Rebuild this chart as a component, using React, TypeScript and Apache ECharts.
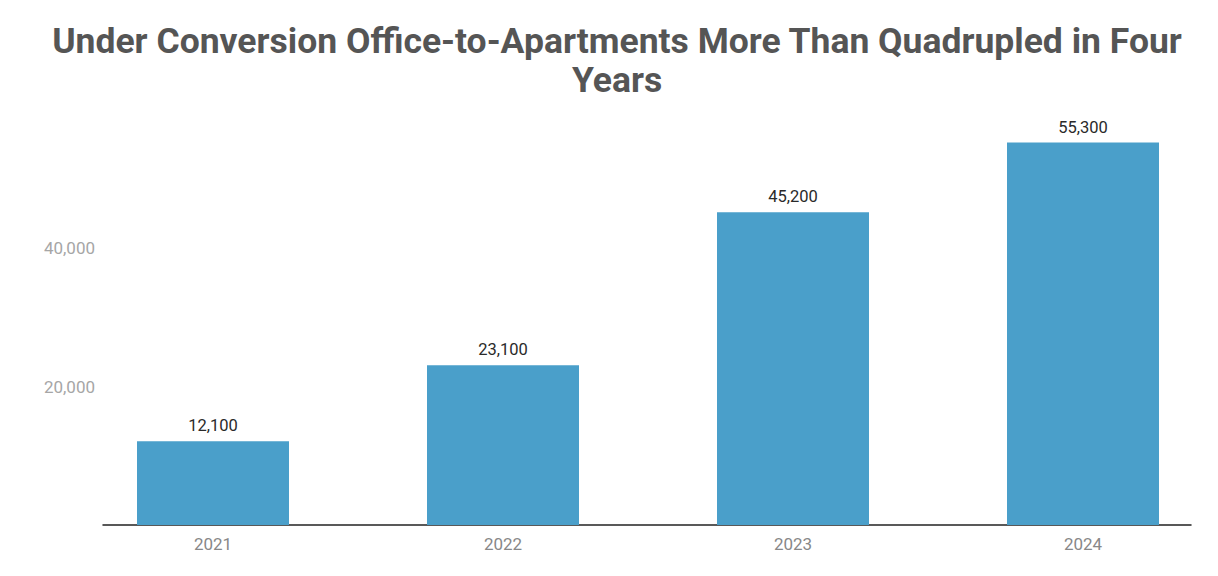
import React, { useEffect, useRef } from "react";
import * as echarts from "echarts";

const categories = ["2021", "2022", "2023", "2024"];
const values = [12100, 23100, 45200, 55300];
const yTicks = [0, 20000, 40000, 60000];

const fmt = (v: number) => v.toLocaleString("en-US");

export default function App() {
  const ref = useRef<HTMLDivElement>(null);
  useEffect(() => {
    if (!ref.current) return;
    const chart = echarts.init(ref.current, null, { renderer: "svg" });
    const yMin = yTicks[0];
    const yMax = yTicks[yTicks.length - 1];
    const yInt = yTicks[1] - yTicks[0];
    chart.setOption({
      animation: false,
      backgroundColor: "#ffffff",
      title: {
        text: "Under Conversion Office-to-Apartments More Than Quadrupled in Four\nYears",
        left: 612,
        textAlign: "center",
        top: 16,
        textStyle: {
          fontFamily: "Roboto",
          fontWeight: "bold",
          fontSize: 35.5,
          lineHeight: 39,
          color: "#555555",
        },
      },
      grid: [
        { left: 68, width: 1160, top: 110, bottom: 51 },
        { left: 103, width: 1088, top: 110, bottom: 51 },
      ],
      xAxis: [
        {
          type: "category",
          gridIndex: 0,
          data: categories,
          axisLine: { show: false },
          axisTick: { show: false },
          axisLabel: {
            color: "#888888",
            fontFamily: "Roboto",
            fontSize: 17,
            margin: 10,
          },
        },
        {
          type: "value",
          gridIndex: 1,
          min: 0,
          max: 1,
          axisLine: { show: true, lineStyle: { color: "#222222", width: 1.5 } },
          axisTick: { show: false },
          axisLabel: { show: false },
          splitLine: { show: false },
        },
      ],
      yAxis: [
        {
          type: "value",
          gridIndex: 0,
          min: yMin,
          max: yMax,
          interval: yInt,
          show: false,
          splitLine: { show: false },
        },
        {
          type: "value",
          gridIndex: 1,
          min: yMin,
          max: yMax,
          interval: yInt,
          axisLine: { show: false },
          axisTick: { show: false },
          splitLine: { show: false },
          axisLabel: {
            showMinLabel: false,
            showMaxLabel: false,
            color: "#a6a6a6",
            fontFamily: "Roboto",
            fontSize: 17,
            margin: 8,
            formatter: (v: number) => fmt(v),
          },
        },
      ],
      series: [
        {
          type: "bar",
          xAxisIndex: 0,
          yAxisIndex: 0,
          data: values,
          barWidth: 152,
          itemStyle: { color: "#4a9fca" },
          label: {
            show: true,
            position: "top",
            distance: 7,
            color: "#2a2a2a",
            fontFamily: "Roboto",
            fontSize: 16.5,
            formatter: (p: any) => fmt(p.value),
          },
        },
      ],
    });
    return () => chart.dispose();
  }, []);
  return (
    <div
      style={{
        position: "fixed",
        left: 0,
        top: 0,
        width: 1218,
        height: 576,
        overflow: "hidden",
        background: "#ffffff",
      }}
    >
      <div ref={ref} style={{ width: 1240, height: 576 }} />
    </div>
  );
}
